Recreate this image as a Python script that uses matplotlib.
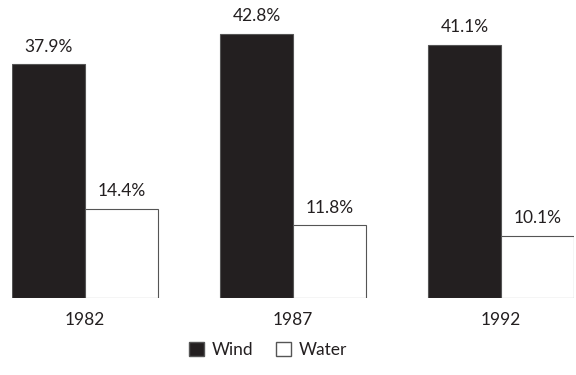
import matplotlib
matplotlib.use("Agg")
import matplotlib.pyplot as plt
from matplotlib.patches import Patch
import numpy as np

years = ["1982", "1987", "1992"]
wind = [37.9, 42.8, 41.1]
water = [14.4, 11.8, 10.1]
series_names = ["Wind", "Water"]

plt.rcParams['font.family'] = ['Lato', 'DejaVu Sans']

fig = plt.figure(figsize=(5.76, 3.75), dpi=100)
ax = fig.add_axes([12/576, (375-298)/375, (574-12)/576, 288/375])

x = np.arange(len(years))
w = 0.35
dark = "#231f20"
edge = "#555555"
b1 = ax.bar(x - w/2, wind, w, color=dark, edgecolor=edge, linewidth=0.8)
b2 = ax.bar(x + w/2, water, w, color="white", edgecolor=edge, linewidth=0.8)

for bars, vals in ((b1, wind), (b2, water)):
    for r, v in zip(bars, vals):
        ax.annotate(f"{v}%", (r.get_x() + r.get_width()/2, v), xytext=(0, 7),
                    textcoords="offset points", ha="center", va="bottom",
                    fontsize=12.5, color="#231f20")

ax.set_xlim(-0.35, 2.35)
ax.set_ylim(0, 46.7)
ax.set_xticks(x)
ax.set_xticklabels(years, fontsize=12.5, color="#231f20")
ax.tick_params(axis="x", length=0, pad=10)
ax.set_yticks([])
for s in ax.spines.values():
    s.set_visible(False)

handles = [Patch(facecolor=dark, edgecolor=edge, label=series_names[0]),
           Patch(facecolor="white", edgecolor=edge, label=series_names[1])]
fig.legend(handles=handles, loc="center", bbox_to_anchor=(268/576, 1-350/375),
           ncol=2, frameon=False, fontsize=12.5, handlelength=0.85, handleheight=0.85,
           handletextpad=0.45, columnspacing=1.3, labelcolor="#231f20")

fig.savefig("out.png", dpi=100)
